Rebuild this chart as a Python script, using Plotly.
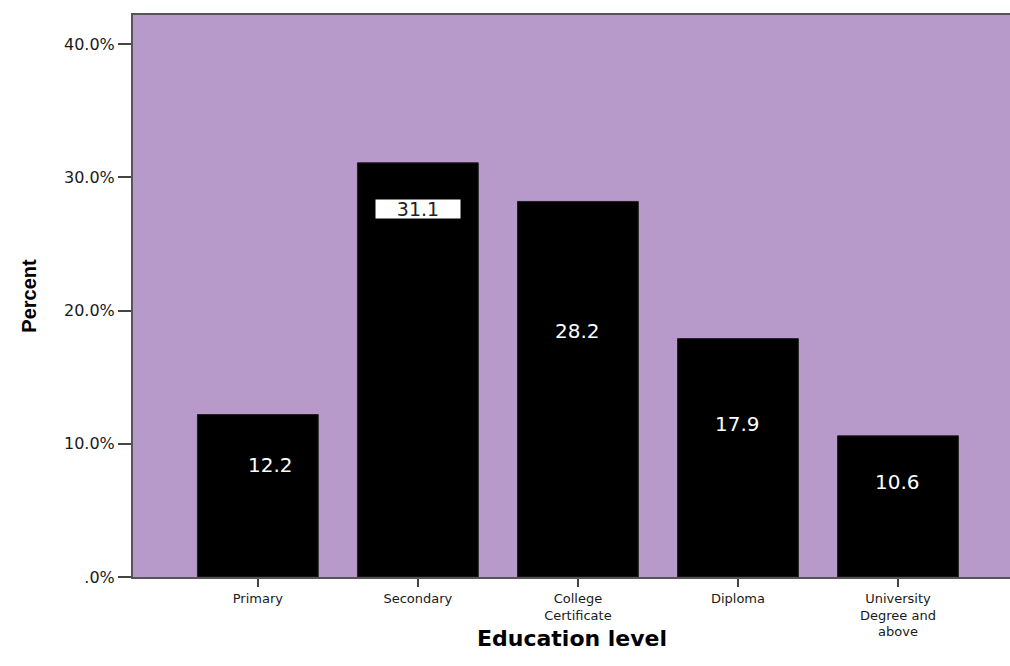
import plotly.graph_objects as go

categories = ["Primary", "Secondary", "College<br>Certificate", "Diploma", "University<br>Degree and<br>above"]
percents = [12.2, 31.1, 28.2, 17.9, 10.6]
value_labels = ["12.2", "31.1", "28.2", "17.9", "10.6"]
label_y = [8.4, 27.6, 18.5, 11.5, 7.1]
label_dx = [0.08, 0.0, 0.0, 0.0, 0.0]
y_tickvals = [0, 10, 20, 30, 40]
y_ticktext = [".0%", "10.0%", "20.0%", "30.0%", "40.0%"]
x_title = "Education level"

x_idx = list(range(len(categories)))

fig = go.Figure()
fig.add_trace(go.Bar(
    x=x_idx, y=percents, width=0.755,
    marker=dict(color="black", line=dict(color="#222222", width=1)),
    hoverinfo="skip",
))

for i, (v, t, ly, dx) in enumerate(zip(percents, value_labels, label_y, label_dx)):
    boxed = (i == 1)
    fig.add_annotation(
        x=i + dx, y=ly, text=t, showarrow=False,
        font=dict(family="DejaVu Sans, Arial, sans-serif", size=19 if boxed else 20,
                  color="#222222" if boxed else "white"),
        bgcolor="white" if boxed else None,
        width=84 if boxed else None, height=18 if boxed else None,
        borderpad=0,
    )

font_fam = "DejaVu Sans, Liberation Sans, Arial, sans-serif"

# x-axis title placed as a text annotation below the plot
fig.add_annotation(
    xref="paper", yref="paper", x=0.5, y=-0.11,
    xanchor="center", yanchor="middle", showarrow=False,
    text="<b>" + x_title + "</b>",
    font=dict(size=22, family=font_fam, color="black"),
)

fig.update_layout(
    width=1010, height=666,
    margin=dict(l=133, r=0, t=15, b=89),
    paper_bgcolor="white",
    plot_bgcolor="#B89ACA",
    showlegend=False,
    font=dict(family=font_fam, color="#222222"),
    xaxis=dict(
        range=[-0.78, 4.70],
        tickvals=x_idx, ticktext=categories,
        tickfont=dict(size=13, color="#1a1a1a"),
        ticks="outside", ticklen=8, tickwidth=2, tickcolor="#444444",
        showline=True, linecolor="#555555", linewidth=2, mirror=True,
        showgrid=False, zeroline=False,
    ),
    yaxis=dict(
        range=[0, 42.2],
        tickvals=y_tickvals, ticktext=y_ticktext,
        tickfont=dict(size=16, color="#1a1a1a"),
        ticks="outside", ticklen=13, tickwidth=2, tickcolor="#444444",
        showline=True, linecolor="#555555", linewidth=2,
        showgrid=False, zeroline=False,
        title=dict(text="<b>Percent</b>",
                   font=dict(size=20, family="Liberation Sans Narrow, Arial Narrow, sans-serif", color="black"),
                   standoff=22),
    ),
)

fig.write_html("out.html")
